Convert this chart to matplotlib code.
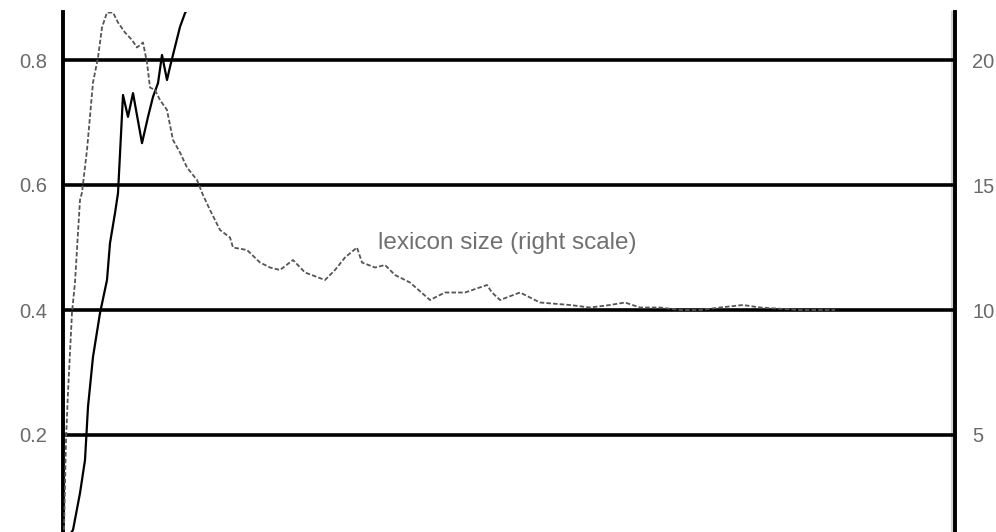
import matplotlib
matplotlib.use("Agg")
import matplotlib.pyplot as plt
import numpy as np

# Communicative success (left scale) over games played
success_games = [20, 100, 170, 220, 250, 300, 370, 440, 470, 520, 550, 600, 650, 700,
                 790, 850, 900, 950, 990, 1040, 1070, 1170, 1220, 1270, 1320]
success_values = [0.03, 0.048, 0.107, 0.160, 0.245, 0.325, 0.395, 0.448, 0.507, 0.555,
                  0.587, 0.744, 0.709, 0.747, 0.667, 0.709, 0.741, 0.763, 0.808, 0.768,
                  0.789, 0.853, 0.875, 0.888, 0.905]

# Average lexicon size (right scale) over games played
lexicon_games = [10, 30, 50, 90, 120, 150, 170, 190, 240, 300, 350, 390, 440, 500, 550,
                 620, 690, 740, 800, 840, 870, 920, 970, 1040, 1100, 1170, 1240, 1340,
                 1400, 1470, 1570, 1670, 1700, 1840, 1970, 2070, 2170, 2300, 2420, 2620,
                 2720, 2820, 2940, 2990, 3120, 3220, 3320, 3470, 3670, 3820, 4020, 4240,
                 4290, 4370, 4570, 4770, 5070, 5270, 5470, 5620, 5770, 5970, 6170, 6370,
                 6570, 6800, 6970, 7370, 7720]
lexicon_sizes = [1.2, 4.8, 6.7, 9.9, 11.1, 13.1, 14.4, 14.7, 16.4, 19.1, 20.1, 21.3, 21.9,
                 21.9, 21.5, 21.1, 20.8, 20.5, 20.7, 19.9, 18.9, 18.8, 18.4, 18.0, 16.8,
                 16.3, 15.7, 15.2, 14.6, 14.0, 13.2, 12.9, 12.5, 12.4, 11.9, 11.7, 11.6,
                 12.0, 11.5, 11.2, 11.6, 12.1, 12.5, 11.9, 11.7, 11.8, 11.4, 11.1, 10.4,
                 10.7, 10.7, 11.0, 10.7, 10.4, 10.7, 10.3, 10.2, 10.1, 10.2, 10.3, 10.1,
                 10.1, 10.0, 10.0, 10.1, 10.2, 10.1, 10.0, 10.0]

left_ticks = [0.2, 0.4, 0.6, 0.8]
left_tick_labels = ["0.2", "0.4", "0.6", "0.8"]
right_ticks = [5, 10, 15, 20]
right_tick_labels = ["5", "10", "15", "20"]

W, H = 996, 532
fig = plt.figure(figsize=(W / 100, H / 100), dpi=100)
ax_left_px, ax_right_px = 63, 955
ax_top_px, ax_bot_px = 12, 532
ax = fig.add_axes([ax_left_px / W, 1 - ax_bot_px / H,
                   (ax_right_px - ax_left_px) / W, (ax_bot_px - ax_top_px) / H])

ylo, yhi = 0.0448, 0.8768
ax.set_xlim(0, 8920)
ax.set_ylim(ylo, yhi)

# faint inner edge next to the right frame
ax.plot([0.997, 0.997], [0, 1], transform=ax.transAxes, color="#d0d0d0", lw=1.5,
        clip_on=False, zorder=0.5)

# horizontal reference lines
for t in left_ticks:
    ax.axhline(t, color="black", lw=2.6, zorder=1)

ax.plot(success_games, success_values, color="black", lw=1.6, zorder=3)

ax2 = ax.twinx()
ax2.set_ylim(ylo * 25, yhi * 25)
ax2.plot(lexicon_games, lexicon_sizes, color="#555555", lw=1.3,
         linestyle=(0, (2.5, 1.2)), zorder=3)

ax2.text(3150, 12.7, "lexicon size (right scale)", fontsize=17.5, color="#707070",
         family="Liberation Sans", va="center", ha="left")

for a in (ax, ax2):
    a.tick_params(length=0)
    a.set_xticks([])
    for s in ("top", "bottom"):
        a.spines[s].set_visible(False)

ax.spines["right"].set_visible(False)
ax.spines["left"].set_linewidth(2.8)
ax2.spines["left"].set_visible(False)
ax2.spines["right"].set_linewidth(2.8)

ax.set_yticks(left_ticks)
ax.set_yticklabels(left_tick_labels, fontsize=14.5, color="#6a6a6a", family="Liberation Sans")
ax.tick_params(axis="y", pad=11.5)
ax2.set_yticks(right_ticks)
ax2.set_yticklabels(right_tick_labels, fontsize=14.5, color="#6a6a6a", family="Liberation Sans")
ax2.tick_params(axis="y", pad=12.5)

fig.savefig("out.png", dpi=100)
